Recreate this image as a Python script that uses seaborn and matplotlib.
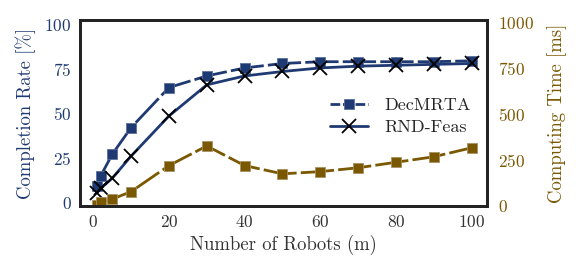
import matplotlib
matplotlib.use("Agg")
import matplotlib.pyplot as plt
import seaborn as sns
import pandas as pd

# ── Data ──────────────────────────────────────────────
robots = [1, 2, 5, 10, 20, 30, 40, 50, 60, 70, 80, 90, 100]
decmrta_rate = [9, 15, 27, 42, 64.5, 71, 75.5, 78, 79, 79, 79, 79, 79.5]
rndfeas_rate = [5.5, 8, 13.5, 26, 48.5, 66, 71, 73.5, 75.5, 76.5, 77, 77.5, 78]
decmrta_time = [5, 20, 37, 78, 220, 327, 220, 175, 187, 208, 238, 268, 317]

BLUE = "#1f3a72"
OLIVE = "#7a5800"

sns.set_theme(style="white")
plt.rcParams["font.family"] = ["cmr10", "DejaVu Serif"]
plt.rcParams["mathtext.fontset"] = "cm"
plt.rcParams["axes.formatter.use_mathtext"] = True

df = pd.DataFrame({"m": robots, "DecMRTA": decmrta_rate,
                   "RND-Feas": rndfeas_rate, "time": decmrta_time})

fig = plt.figure(figsize=(5.76, 2.76), dpi=100)
ax = fig.add_axes([0.139, 0.254, 0.706, 0.674])
ax2 = ax.twinx()

sns.lineplot(data=df, x="m", y="DecMRTA", ax=ax, color=BLUE, linewidth=2,
             marker="s", markersize=7.5, markeredgecolor="#5a6f99", markeredgewidth=0.6,
             label="DecMRTA")
ax.lines[-1].set_dashes((12, 1.5))
sns.lineplot(data=df, x="m", y="RND-Feas", ax=ax, color=BLUE, linewidth=2,
             marker="x", markersize=9.5, markeredgecolor="black", markeredgewidth=1.3,
             label="RND-Feas")
sns.lineplot(data=df, x="m", y="time", ax=ax2, color=OLIVE, linewidth=2,
             marker="s", markersize=7.5, markeredgecolor="#a89060", markeredgewidth=0.6)
ax2.lines[-1].set_dashes((12, 1.5))

ax.set_xlim(-3.5, 104)
ax.set_ylim(-2, 102.5)
ax2.set_ylim(0, 1015)
ax.set_xticks([0, 20, 40, 60, 80, 100])
ax.set_yticks([0, 25, 50, 75, 100])
ax2.set_yticks([0, 250, 500, 750, 1000])

ax.set_xlabel("Number of Robots (m)", fontsize=13.5, color="#333333", labelpad=3)
ax.set_ylabel("Completion Rate [%]", fontsize=13.5, color=BLUE, labelpad=6)
ax2.set_ylabel("Computing Time [ms]", fontsize=13.5, color=OLIVE, labelpad=10)
ax.tick_params(axis="x", labelsize=12.5, labelcolor="#333333", length=0, pad=6)
ax.tick_params(axis="y", labelsize=12.5, labelcolor=BLUE, length=0, pad=6)
ax2.tick_params(axis="y", labelsize=12.5, labelcolor=OLIVE, length=0, pad=8)

for a in (ax, ax2):
    for sp in a.spines.values():
        sp.set_linewidth(2)
        sp.set_color("#222222")

leg = ax.legend(loc="center right", bbox_to_anchor=(1.0, 0.48), frameon=False,
                fontsize=13, handlelength=2.1, handletextpad=0.9, labelspacing=0.35)
leg.get_lines()[0].set_dashes((3.5, 1))

fig.savefig("out.png", dpi=100)
